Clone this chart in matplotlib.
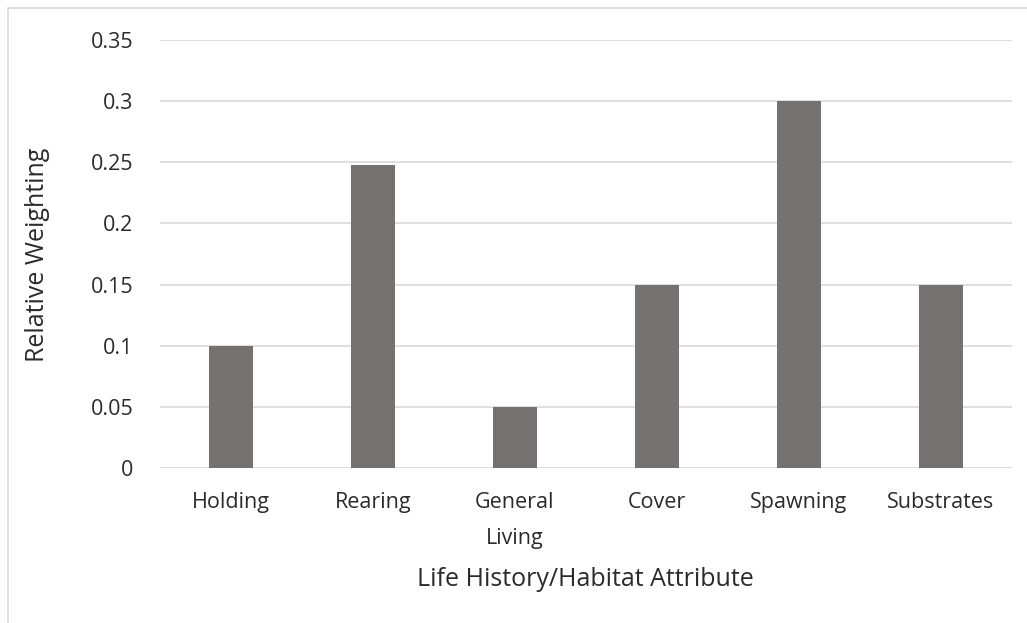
import matplotlib
matplotlib.use('Agg')
import matplotlib.pyplot as plt
from matplotlib.patches import Rectangle
import numpy as np

categories = ['Holding', 'Rearing', 'General\nLiving', 'Cover', 'Spawning', 'Substrates']
weights = [0.1, 0.2475, 0.05, 0.15, 0.3, 0.15]
y_ticks = [0, 0.05, 0.1, 0.15, 0.2, 0.25, 0.3, 0.35]
y_tick_labels = ['0', '0.05', '0.1', '0.15', '0.2', '0.25', '0.3', '0.35']

BAR_COLOR = '#767171'
GRID_COLOR = '#d9d9d9'
TEXT_COLOR = '#2b2b2b'

plt.rcParams['font.family'] = ['Open Sans', 'DejaVu Sans']

W, H = 1027, 623
fig = plt.figure(figsize=(W / 100, H / 100), dpi=100)

# chart border, top-left corner visible, the rest runs off the canvas
fig.patches.append(Rectangle((8 / W, -0.1), 1.2, 1 - 8 / H + 0.1, transform=fig.transFigure,
                             fill=False, edgecolor=GRID_COLOR, linewidth=1.2))

ax = fig.add_axes([160 / W, 1 - 468 / H, (1012 - 160) / W, (468 - 40) / H])
x = np.arange(len(categories))
ax.bar(x, weights, width=0.31, color=BAR_COLOR, zorder=3)

ax.set_xlim(-0.5, len(categories) - 0.5)
ax.set_ylim(0, 0.35)
ax.set_yticks(y_ticks)
ax.set_yticklabels(y_tick_labels)
ax.set_xticks(x)
ax.set_xticklabels(categories, linespacing=1.95)

ax.grid(axis='y', color=GRID_COLOR, linewidth=1.2, zorder=0)
for s in ax.spines.values():
    s.set_visible(False)
ax.tick_params(length=0, labelsize=15.5, labelcolor=TEXT_COLOR)
ax.tick_params(axis='y', pad=19)
ax.tick_params(axis='x', pad=17)

fig.text(38 / W, 1 - 255 / H, 'Relative Weighting', rotation=90, ha='center', va='center',
         fontsize=18, color=TEXT_COLOR)
fig.text(585 / W, 1 - 579 / H, 'Life History/Habitat Attribute', ha='center', va='center',
         fontsize=18, color=TEXT_COLOR)

fig.savefig('out.png', dpi=100, facecolor='white')
